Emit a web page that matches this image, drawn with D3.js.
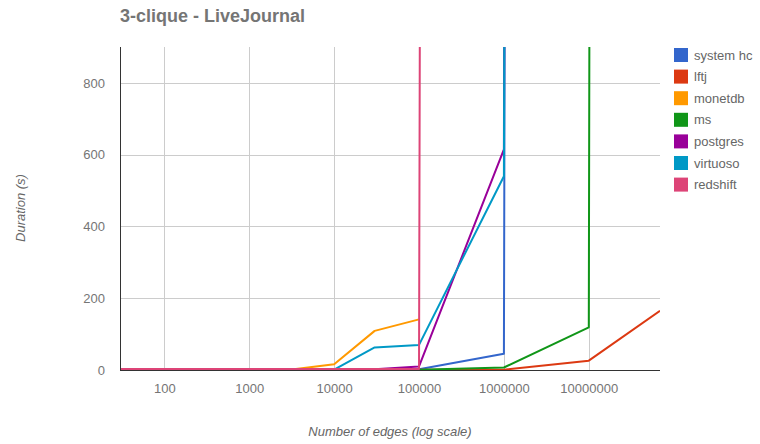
<!DOCTYPE html>
<html><head><meta charset="utf-8">
<script src="https://cdn.jsdelivr.net/npm/d3@7"></script>
<style>body{margin:0;background:#fff;}svg{display:block;font-family:"Liberation Sans",Arial,sans-serif;}</style>
</head><body><svg id="c" width="760" height="444"></svg>
<script>
const TIMEOUT = 100000;
const edges = [30, 100, 300, 1000, 3000, 10000, 30000, 100000, 1000000, 10000000, 69000000];
const seriesNames = ["system hc", "lftj", "monetdb", "ms", "postgres", "virtuoso", "redshift"];
const colors = ["#3366cc", "#dc3912", "#ff9900", "#109618", "#990099", "#0099c6", "#dd4477"];
const systemHc = [1, 1, 1, 1, 1, 1, 1, 2, 45, TIMEOUT, null];
const lftj     = [0.5, 0.5, 0.5, 0.5, 0.5, 0.5, 0.5, 0.5, 1, 26, 165];
const monetdb  = [1, 1, 1, 1, 1, 16, 109, 141, null, null, null];
const ms       = [0.5, 0.5, 0.5, 0.5, 0.5, 0.5, 0.5, 1, 7, 119, TIMEOUT];
const postgres = [1, 1, 1, 1, 1, 1, 2, 10, 615, TIMEOUT, null];
const virtuoso = [1, 1, 1, 1, 1, 1, 63, 70, 540, TIMEOUT, null];
const redshift = [3, 3, 3, 3, 3, 3, 3, 3, TIMEOUT, null, null];
const seriesValues = [systemHc, lftj, monetdb, ms, postgres, virtuoso, redshift];
const xTicks = [100, 1000, 10000, 100000, 1000000, 10000000];
const yTicks = [0, 200, 400, 600, 800];

const svg = d3.select("#c");
const L = 120, R = 660, T = 47, B = 370;
const x = d3.scaleLog().domain([edges[0], edges[edges.length-1]]).range([L, R]);
const y = d3.scaleLinear().domain([0, 900]).range([B, T]);

svg.append("defs").append("clipPath").attr("id","clip")
  .append("rect").attr("x", L).attr("y", T).attr("width", R-L).attr("height", B-T+2);

// title
svg.append("text").attr("x", 120).attr("y", 22).attr("font-size", 18).attr("font-weight","bold")
  .attr("fill","#757575").text("3-clique - LiveJournal");

// gridlines
const g = svg.append("g");
g.selectAll(".hg").data(yTicks.filter(d=>d>0)).join("line")
  .attr("x1", L).attr("x2", R).attr("y1", d=>Math.round(y(d))+0.5).attr("y2", d=>Math.round(y(d))+0.5)
  .attr("stroke","#cccccc");
g.selectAll(".vg").data(xTicks).join("line")
  .attr("y1", T).attr("y2", B).attr("x1", d=>Math.round(x(d))+0.5).attr("x2", d=>Math.round(x(d))+0.5)
  .attr("stroke","#cccccc");

// axes
const yAxis = d3.axisLeft(y).tickValues(yTicks).tickSize(0).tickPadding(15).tickFormat(d3.format("d"));
const ya = svg.append("g").attr("transform",`translate(${L},0)`).call(yAxis);
ya.select(".domain").remove();
ya.selectAll("text").attr("font-size",13).attr("fill","#757575").attr("font-family","Liberation Sans, Arial, sans-serif");

const xAxis = d3.axisBottom(x).tickValues(xTicks).tickSize(0).tickPadding(14).tickFormat(d3.format("d"));
const xa = svg.append("g").attr("transform",`translate(0,${B})`).call(xAxis);
xa.select(".domain").remove();
xa.selectAll("text").attr("font-size",13).attr("fill","#757575").attr("font-family","Liberation Sans, Arial, sans-serif");

// lines
const line = d3.line().defined(d=>d[1]!=null).x(d=>x(d[0])).y(d=>y(d[1]));
const lg = svg.append("g").attr("clip-path","url(#clip)");
seriesValues.forEach((vals,i)=>{
  lg.append("path").datum(edges.map((e,j)=>[e, vals[j]]))
    .attr("d", line).attr("fill","none").attr("stroke", colors[i]).attr("stroke-width", 2)
    .attr("stroke-linejoin","round");
});

// axis lines
svg.append("line").attr("x1", L+0.5).attr("x2", L+0.5).attr("y1", T).attr("y2", B+1).attr("stroke","#333");
svg.append("line").attr("x1", L).attr("x2", R).attr("y1", B+0.5).attr("y2", B+0.5).attr("stroke","#333");

// axis titles
svg.append("text").attr("transform",`translate(25,208) rotate(-90)`).attr("text-anchor","middle")
  .attr("font-size",13).attr("font-style","italic").attr("fill","#666").text("Duration (s)");
svg.append("text").attr("x",390).attr("y",436).attr("text-anchor","middle")
  .attr("font-size",13).attr("font-style","italic").attr("fill","#666").text("Number of edges (log scale)");

// legend
const leg = svg.append("g");
seriesNames.forEach((n,i)=>{
  const cy = 55 + i*21.6;
  leg.append("rect").attr("x",674).attr("y",cy-7).attr("width",14).attr("height",14).attr("fill",colors[i]);
  leg.append("text").attr("x",694).attr("y",cy+4.5).attr("font-size",13).attr("fill","#666").text(n);
});
</script></body></html>
